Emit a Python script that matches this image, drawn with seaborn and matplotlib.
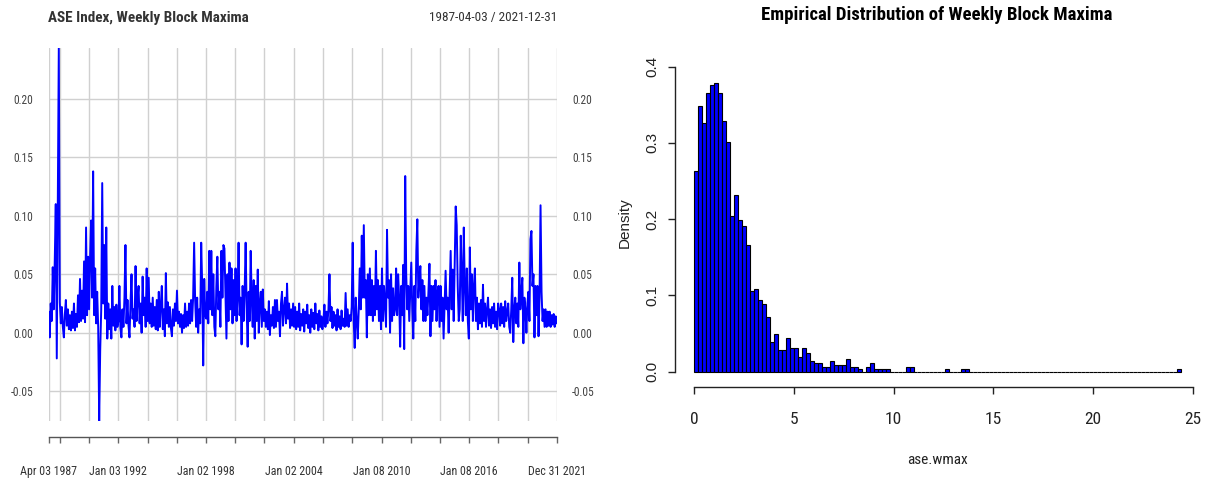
import numpy as np
import pandas as pd
import matplotlib
matplotlib.use("Agg")
import matplotlib.pyplot as plt
import matplotlib.dates as mdates
from matplotlib import font_manager as fm
import seaborn as sns

# ---------------------------------------------------------------------------
# ASE index weekly block maxima (percent), roughly one value every 3.6 weeks,
# grouped by two-year spans between grid lines.
# ---------------------------------------------------------------------------
pct_1987 = [1.8, -0.4, 2.5, 1.0, 5.6, 2.0, 6.2, 11.0, -2.2, 10.6, 24.35]
pct_1988_89 = [2.6, 0.8, 2.2, 0.5, -0.4, 1.6, 2.8, 0.6, 2.0, 0.3, 1.5, 0.2, 1.8, 0.4, 2.5,
               0.2, 1.6, 0.5, 3.2, 0.9, 4.6, 1.0, 3.6, 1.2, 6.1, 0.9, 9.0, 1.5, 6.5]
pct_1990_91 = [2.0, 6.5, 9.6, 3.0, 13.8, 1.5, 5.5, 0.8, 3.5, 0.5, -7.55, -1.5, 2.0, 12.8, 2.5,
               7.5, 1.2, 9.0, -0.5, 2.5, 0.3, 2.0, -0.5, 4.0, 0.6, 2.2, 0.2, 2.4, 0.5]
pct_1992_93 = [1.0, 4.0, 0.4, -0.4, 2.0, 0.5, 3.0, 7.5, 0.8, 2.8, 0.6, -0.4, 2.5, 5.0, 1.2,
               2.0, 0.5, 5.7, 1.0, 3.0, 4.0, 0.8, 2.5, 0.0, 4.8, 1.5, 3.0, 0.5, 5.5]
pct_1994_95 = [1.0, 4.7, 0.8, 2.5, 0.5, 3.0, 0.6, 2.2, 0.3, 2.8, 0.2, 3.5, 0.5, 2.4, 4.0,
               0.3, 2.0, -0.3, 5.1, 0.8, 2.6, 0.5, 2.2, 0.4, -0.3, 2.0, 0.6, 2.5, 1.0]
pct_1996_97 = [3.6, 0.8, 1.8, 0.5, 1.6, 0.0, 1.5, 0.4, 2.5, 0.5, 1.8, 0.6, 2.5, 0.8, 2.8,
               1.0, 3.0, 7.7, 2.8, 0.5, 3.0, 0.0, 2.0, 0.8, 7.7, 4.0, -2.8, 4.6, 1.5]
pct_1998_99 = [1.2, 3.5, 0.8, 7.0, 2.0, 7.0, 1.5, 5.0, 0.5, -0.3, 4.0, 6.5, 2.0, 3.5, 0.5,
               7.0, 3.0, 7.5, 7.2, 3.5, -0.5, 5.0, 1.0, 6.0, 2.0, 5.5, 0.8, 4.5, 1.5]
pct_2000_01 = [5.5, 1.0, 3.0, 7.7, 1.5, 3.0, -1.0, 4.0, 1.0, 3.5, 7.7, 2.0, -1.2, 3.5, 1.0,
               7.0, 3.0, 0.5, 4.5, -0.5, 4.0, 1.0, 5.4, 0.0, 2.5, 3.5, 0.5, 3.7, 1.0]
pct_2002_03 = [2.0, 0.5, 1.8, 0.3, 2.7, -0.2, 1.5, 0.6, 2.2, 0.4, 2.8, 0.5, 2.8, 1.0, 1.8,
               -0.3, 2.5, 3.5, 0.6, 2.0, 3.0, 0.8, 4.2, 1.2, 2.5, 0.4, 2.0, 0.6, 2.5]
pct_2004_05 = [0.5, 2.2, 0.3, 1.8, 0.5, 2.5, 0.2, 1.6, 0.6, 2.0, 0.1, 1.8, 0.8, 2.4, 0.4,
               1.5, 0.0, 2.0, 0.5, 1.7, 0.3, 2.5, 0.8, 1.6, 0.2, 1.9, 0.5, 1.4, 0.3]
pct_2006_07 = [1.0, 2.4, 0.5, 1.8, 0.8, 2.0, 5.0, 1.0, 2.2, 0.4, 1.8, 0.6, 1.5, 0.2, 2.0,
               0.5, 1.4, 0.3, 1.9, 0.6, 1.2, 0.5, 3.4, 0.6, 2.0, 0.5, 1.5, 1.0, 2.2]
pct_2008_09 = [7.7, 1.0, -1.3, 3.0, 1.0, -0.5, 2.0, 5.5, 2.0, 8.3, 3.0, 9.2, 3.0, 4.5, -0.4,
               5.0, 1.5, 5.5, 1.5, 4.5, 1.0, 4.0, 1.5, 7.0, 2.0, 4.5, 1.0, 4.0, 0.3]
pct_2010_11 = [5.5, 1.0, 4.0, 2.5, 0.5, 8.8, 3.0, 4.5, 0.0, 5.0, 1.0, 3.8, 1.5, 2.0, 5.5,
               1.5, 5.0, 3.0, -1.2, 4.0, 1.5, 5.8, -1.4, 13.4, 5.0, 2.0, 4.0, 1.0, 3.5]
pct_2012_13 = [6.0, 2.0, -0.5, 4.0, 1.0, 7.0, 9.7, 3.0, 4.5, 5.7, 2.0, 4.5, 1.0, 4.0, 1.0,
               3.0, 1.5, 3.5, 5.9, -0.3, 4.0, 1.0, 4.0, 2.0, 4.5, 1.0, 3.5, 4.0, 0.5]
pct_2014_15 = [4.0, 1.0, 3.0, -0.5, 2.5, 5.3, 2.0, 3.0, 0.0, 3.5, 7.0, 2.0, 5.4, 1.0, 6.0,
               10.8, 9.2, 4.0, 1.0, 2.0, 8.3, 5.0, 1.0, 9.0, 4.0, 1.5, 5.5, 1.0, -0.5]
pct_2016_17 = [7.3, 2.0, 5.0, 1.0, 4.0, 5.5, 1.0, 3.0, 0.3, 2.5, 0.8, 2.8, 0.5, 4.1, 1.0,
               2.5, 0.5, 2.0, 3.0, 0.6, 2.0, 0.4, 2.2, 0.8, 2.5, 0.5, 1.8, 0.3, 2.5]
pct_2018_19 = [2.0, 0.6, 2.5, 0.8, 2.2, 0.5, 2.7, 1.0, 1.8, 2.5, 0.5, 0.0, 2.0, 4.7, -0.8,
               2.0, 3.0, 0.8, 2.5, 0.5, 6.0, 2.0, 3.5, 4.7, -0.9, 3.0, 2.0, 0.0, 2.5]
pct_2020_21 = [3.5, 1.0, 8.0, 8.7, 4.0, 5.0, -0.4, 4.0, 1.5, 4.0, -0.3, 3.0, 10.9, 3.5, 1.0,
               2.0, 0.5, 2.0, 0.5, 1.8, 0.6, 1.8, 0.5, 1.5, 0.7, 1.6, 0.5, 1.4, 0.8]

series_start = "1987-04-03"
series_end = "2021-12-31"

# Date axis ticks (every two years) and the ones carrying a label
tick_dates = ["1987-04-03", "1988-01-08", "1990-01-05", "1992-01-03", "1994-01-07",
              "1996-01-05", "1998-01-02", "2000-01-07", "2002-01-04", "2004-01-02",
              "2006-01-06", "2008-01-04", "2010-01-08", "2012-01-06", "2014-01-03",
              "2016-01-08", "2018-01-05", "2020-01-03", "2021-12-31"]
labelled_dates = ["1987-04-03", "1992-01-03", "1998-01-02", "2004-01-02",
                  "2010-01-08", "2016-01-08", "2021-12-31"]
ts_yticks = [-0.05, 0.00, 0.05, 0.10, 0.15, 0.20]

# Histogram of ase.wmax: counts per 0.2-wide bin from 0 to 24.4
hist_counts_head = [95, 126, 118, 132, 136, 137, 132, 119, 109, 74, 84, 72, 69, 60,
                    38, 39, 34, 32, 26, 14, 18, 10, 10, 16, 11, 11, 7, 11, 9, 5, 4, 4,
                    2, 2, 5, 3, 3, 3, 6, 2, 2, 1, 0, 2, 4, 1, 1, 1, 1]
hist_counts_tail = [0] * 4 + [2, 2] + [0] * 8 + [1] + [0] * 3 + [1, 1] + [0] * 52 + [1]
hist_bin_width = 0.2
hist_xticks = [0, 5, 10, 15, 20, 25]
hist_yticks = [0.0, 0.1, 0.2, 0.3, 0.4]

# ---------------------------------------------------------------------------
series = np.concatenate([pct_1987, pct_1988_89, pct_1990_91, pct_1992_93, pct_1994_95,
                         pct_1996_97, pct_1998_99, pct_2000_01, pct_2002_03, pct_2004_05,
                         pct_2006_07, pct_2008_09, pct_2010_11, pct_2012_13, pct_2014_15,
                         pct_2016_17, pct_2018_19, pct_2020_21]) / 100.0
dates = pd.date_range(series_start, series_end, periods=len(series))
ts = pd.DataFrame({"date": dates, "wmax": series})

counts = np.array(hist_counts_head + hist_counts_tail, dtype=float)
n_bins = len(counts)
mids = (np.arange(n_bins) + 0.5) * hist_bin_width
hist_df = pd.DataFrame({"ase.wmax": mids, "n": counts})

sns.set_theme(style="white")

# Prefer a narrow sans face for horizontal text when one is installed
installed = {f.name for f in fm.fontManager.ttflist}
narrow_face = None
for cand in ("Liberation Sans Narrow", "Arial Narrow", "Roboto Condensed",
             "Noto Sans Condensed", "Open Sans Condensed", "DejaVu Sans Condensed"):
    if cand in installed:
        narrow_face = cand
        break
if narrow_face is None:
    for f in fm.fontManager.ttflist:
        if "Condensed" in f.name or "Narrow" in f.name:
            narrow_face = f.name
            break
regular = ["Liberation Sans", "DejaVu Sans"]
if narrow_face:
    horiz = [narrow_face] + regular
    k = 1.0
else:
    horiz = regular
    k = 0.86
plt.rcParams["font.family"] = horiz

W, H = 1207, 482
fig = plt.figure(figsize=(W / 100, H / 100), dpi=100)
fig.patch.set_facecolor("white")


def fx(px):
    return px / W


def fy(py):
    return 1 - py / H


# ---------------------------- time-series panel ----------------------------
ax1 = fig.add_axes([fx(48.7), fy(421), fx(556.7) - fx(48.7), fy(48) - fy(421)])
ax1.set_axisbelow(True)
sns.lineplot(data=ts, x="date", y="wmax", ax=ax1, color="#0000FF", linewidth=1.4,
             estimator=None)
ax1.set_xlim(dates[0], dates[-1])
ax1.set_ylim(series.min(), series.max())
ax1.set_xlabel("")
ax1.set_ylabel("")

tick_ts = pd.to_datetime(tick_dates)
labelled = set(pd.to_datetime(labelled_dates))
ax1.set_xticks(mdates.date2num(tick_ts))
ax1.set_xticklabels([d.strftime("%b %d %Y") if d in labelled else "" for d in tick_ts])
ax1.set_yticks(ts_yticks)
ax1.set_yticklabels([f"{v:.2f}" for v in ts_yticks])

ax1.grid(True, color="#D0D0D0", linewidth=1.0)
for side in ("top", "left", "right"):
    ax1.spines[side].set_visible(False)
ax1.spines["bottom"].set_position(("outward", 11.5))
ax1.spines["bottom"].set_color("#555555")
ax1.spines["bottom"].set_linewidth(1.0)
ax1.tick_params(axis="x", bottom=True, direction="out", length=4.5, width=1.0,
                color="#666666", labelsize=8.6 * k, labelcolor="#333333", pad=16)
ax1.tick_params(axis="y", length=0, labelsize=8.3 * k, labelcolor="#444444", pad=11,
                left=False, right=False, labelleft=True, labelright=True)

fig.text(fx(48), fy(18), "ASE Index, Weekly Block Maxima", ha="left", va="center",
         fontsize=10.9 * k, fontweight="bold", color="#333333")
fig.text(fx(557), fy(18), f"{series_start} / {series_end}", ha="right", va="center",
         fontsize=9.5 * k, color="#333333")

# ------------------------------ histogram panel ----------------------------
x0, x1 = -0.976, 25.38
y0, y1 = -0.0204, 0.41
px_per_x = (1192.5 - 694.3) / 25
py_per_y = (371.5 - 66.7) / 0.4
left_px = 694.3 + x0 * px_per_x
right_px = 694.3 + x1 * px_per_x
bottom_px = 371.5 - y0 * py_per_y
top_px = 371.5 - y1 * py_per_y
ax2 = fig.add_axes([fx(left_px), fy(bottom_px), fx(right_px) - fx(left_px),
                    fy(top_px) - fy(bottom_px)])
sns.histplot(data=hist_df, x="ase.wmax", weights="n", binwidth=hist_bin_width,
             binrange=(0, n_bins * hist_bin_width), stat="density",
             color="#0000FF", edgecolor="black", linewidth=0.8, alpha=1.0, ax=ax2)
ax2.set_xlim(x0, x1)
ax2.set_ylim(y0, y1)
for side in ("top", "right"):
    ax2.spines[side].set_visible(False)
ax2.spines["left"].set_bounds(0, 0.4)
ax2.spines["bottom"].set_bounds(0, 25)
for side in ("left", "bottom"):
    ax2.spines[side].set_color("#222222")
    ax2.spines[side].set_linewidth(1.0)
ax2.set_xticks(hist_xticks)
ax2.set_xticklabels([str(v) for v in hist_xticks])
ax2.set_yticks(hist_yticks)
ax2.set_yticklabels([f"{v:.1f}" for v in hist_yticks], rotation=90, va="center",
                    family=regular)
ax2.tick_params(axis="both", direction="out", length=5, width=1.0, color="#222222",
                labelcolor="#222222", left=True, bottom=True)
ax2.tick_params(axis="x", labelsize=12.5 * k, pad=13)
ax2.tick_params(axis="y", labelsize=11, pad=6)
ax2.set_xlabel("ase.wmax", fontsize=11.0 * k, color="#222222", labelpad=19)
ax2.set_ylabel("Density", fontsize=11, color="#222222", labelpad=10, family=regular)

fig.text(fx(937), fy(15), "Empirical Distribution of Weekly Block Maxima",
         ha="center", va="center", fontsize=13.5 * k, fontweight="bold", color="black")

fig.savefig("out.png", dpi=100, facecolor="white")
